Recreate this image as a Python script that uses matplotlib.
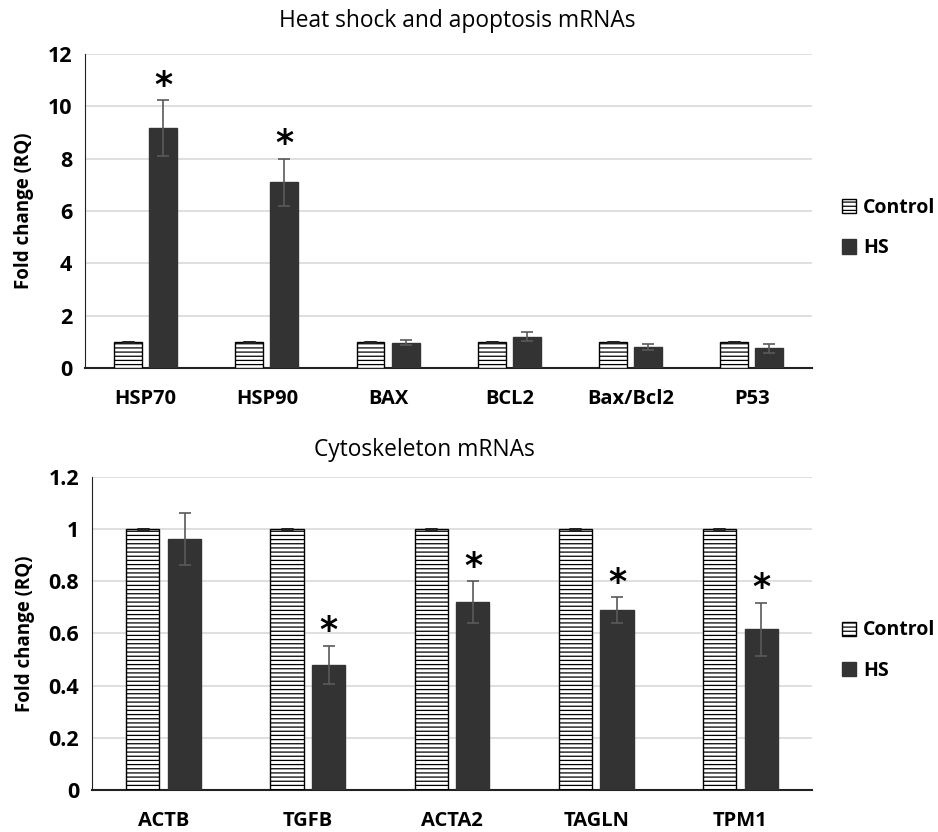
import matplotlib
matplotlib.use("Agg")
from matplotlib import pyplot as plt
import numpy as np

plt.rcParams['font.family'] = ['Open Sans', 'DejaVu Sans']
plt.rcParams['hatch.linewidth'] = 0.9

# heat shock / apoptosis panel
genes_top = ['HSP70', 'HSP90', 'BAX', 'BCL2', 'Bax/Bcl2', 'P53']
ctrl_top = [1, 1, 1, 1, 1, 1]
hs_top = [9.17, 7.1, 0.97, 1.2, 0.81, 0.75]
hs_err_top = [1.08, 0.9, 0.11, 0.17, 0.12, 0.16]
sig_top = [True, True, False, False, False, False]

# cytoskeleton panel
genes_bot = ['ACTB', 'TGFB', 'ACTA2', 'TAGLN', 'TPM1']
ctrl_bot = [1, 1, 1, 1, 1]
hs_bot = [0.96, 0.48, 0.72, 0.69, 0.615]
hs_err_bot = [0.1, 0.073, 0.08, 0.05, 0.103]
sig_bot = [False, True, True, True, True]

DARK = '#333333'
GRID = '#d9d9d9'


def panel(ax, genes, ctrl, hs, err, sig, ymax, step, fmt, star_pad):
    x = np.arange(len(genes))
    w = 0.23
    off = 0.145
    ax.bar(x - off, ctrl, w, color='white', edgecolor='black', hatch='----',
           linewidth=1.0, label='Control', zorder=3)
    ax.bar(x + off, hs, w, color=DARK, edgecolor=DARK, label='HS', zorder=3)
    # control has zero spread, only the cap shows
    ax.errorbar(x - off, ctrl, yerr=np.zeros(len(ctrl)), fmt='none',
                ecolor='#222222', elinewidth=1.2, capsize=4, capthick=2, zorder=4)
    ax.errorbar(x + off, hs, yerr=err, fmt='none', ecolor='#5a5a5a',
                elinewidth=1.2, capsize=4, capthick=1.2, zorder=4)
    for i, s in enumerate(sig):
        if s:
            ax.annotate('*', (x[i] + off, hs[i] + err[i]), xytext=(0, star_pad),
                        textcoords='offset points', ha='center', va='bottom',
                        fontsize=25, fontweight='bold', family='DejaVu Sans')
    ax.set_xlim(-0.5, len(genes) - 0.5)
    ax.set_ylim(0, ymax)
    ticks = np.arange(0, ymax + step / 2, step)
    ax.set_yticks(ticks)
    ax.set_yticklabels([fmt(t) for t in ticks])
    ax.set_xticks(x)
    ax.set_xticklabels(genes)
    ax.yaxis.grid(True, color=GRID, linewidth=1.2, zorder=0)
    ax.set_axisbelow(True)
    for sp in ['top', 'right']:
        ax.spines[sp].set_visible(False)
    ax.spines['left'].set_color('#222222')
    ax.spines['bottom'].set_color('#222222')
    ax.spines['bottom'].set_linewidth(1.5)
    ax.tick_params(axis='both', length=0)
    ax.tick_params(axis='x', pad=15, labelsize=14.5)
    ax.tick_params(axis='y', pad=9, labelsize=15.5)
    for lab in ax.get_xticklabels() + ax.get_yticklabels():
        lab.set_fontweight('bold')
    ax.set_ylabel('Fold change (RQ)', fontsize=13.5, fontweight='bold', labelpad=10)


fig = plt.figure(figsize=(9.38, 8.32), dpi=100)
ax1 = fig.add_axes([0.0906, 0.5577, 0.7754, 0.3774])
ax2 = fig.add_axes([0.0978, 0.0505, 0.7682, 0.3765])

panel(ax1, genes_top, ctrl_top, hs_top, hs_err_top, sig_top, 12, 2,
      lambda t: '%d' % t, -2)
panel(ax2, genes_bot, ctrl_bot, hs_bot, hs_err_bot, sig_bot, 1.2, 0.2,
      lambda t: '0' if t == 0 else ('1' if abs(t - 1) < 1e-9 else '%.1f' % t), -2)

fig.text(0.488, 0.975, 'Heat shock and apoptosis mRNAs', ha='center', va='center',
         fontsize=16.4)
fig.text(0.452, 0.459, 'Cytoskeleton mRNAs', ha='center', va='center', fontsize=16.4)

for ax, yc in [(ax1, 0.726), (ax2, 0.218)]:
    leg = ax.legend(loc='center left', bbox_to_anchor=(0.887, yc),
                    bbox_transform=fig.transFigure, frameon=False,
                    prop={'weight': 'bold', 'size': 14}, handlelength=0.75,
                    handleheight=0.75, handletextpad=0.35, labelspacing=1.05,
                    borderpad=0)

fig.savefig('out.png', dpi=100)
